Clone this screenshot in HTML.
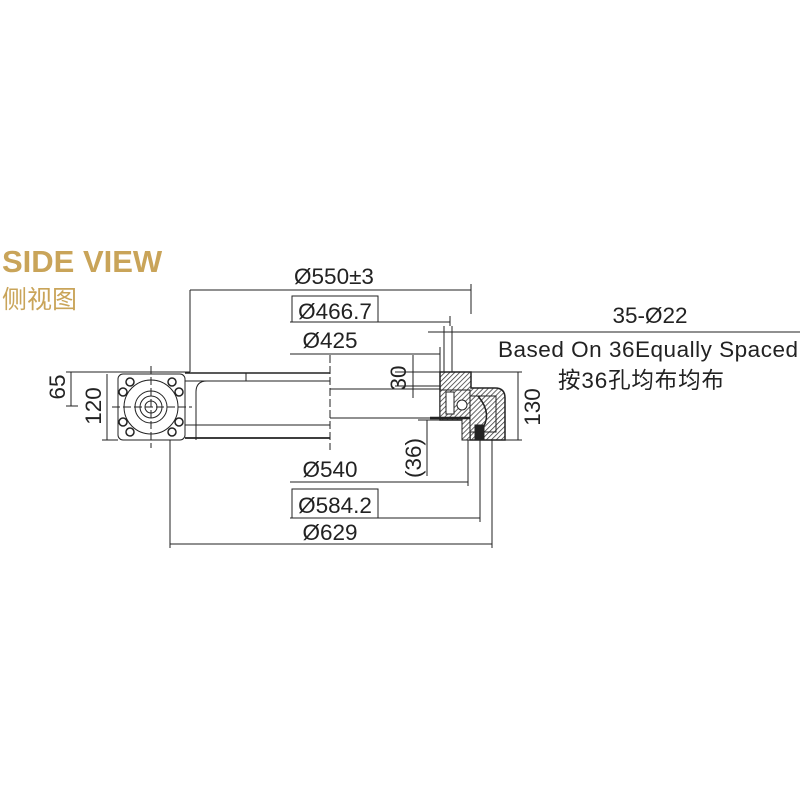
<!DOCTYPE html>
<html><head><style>
html,body{margin:0;padding:0;background:#fff;}
svg{display:block}
.t{font-family:"Liberation Sans",Arial,sans-serif;font-size:22.5px;fill:#222}
.m{text-anchor:middle}
</style></head><body>
<svg width="800" height="800" viewBox="0 0 800 800" xmlns="http://www.w3.org/2000/svg">
<defs>
<pattern id="h" width="3.5" height="3.5" patternUnits="userSpaceOnUse" patternTransform="rotate(45)">
<rect width="4" height="4" fill="#fff"/><line x1="0" y1="0" x2="0" y2="4" stroke="#333" stroke-width="1.5"/>
</pattern>
</defs>
<text x="2" y="272" font-family="Liberation Sans,Arial,sans-serif" font-weight="bold" font-size="31" fill="#c9a459">SIDE VIEW</text>
<text x="2" y="308" font-family="'Liberation Sans','Noto Sans CJK SC',sans-serif" font-size="25" fill="#c9a459">侧视图</text>

<g stroke="#222" fill="none" stroke-width="1">
<line x1="190" y1="290" x2="471" y2="290"/><line x1="471" y1="284" x2="471" y2="314"/>
<line x1="190" y1="290" x2="190" y2="372"/>
<rect x="292" y="296" width="86" height="26"/>
<line x1="290" y1="322" x2="450" y2="322"/><line x1="450" y1="316" x2="450" y2="326"/>
<line x1="290" y1="354" x2="440" y2="354"/><line x1="440" y1="347" x2="440" y2="372"/>
<line x1="428" y1="332" x2="800" y2="332"/>
<line x1="444" y1="326" x2="444" y2="420"/><line x1="452" y1="326" x2="452" y2="420"/>
<line x1="413" y1="355" x2="413" y2="398"/>
<line x1="395" y1="372" x2="440" y2="372"/><line x1="395" y1="386" x2="440" y2="386"/>
<line x1="470" y1="372" x2="522" y2="372"/><line x1="500" y1="440" x2="522" y2="440"/>
<line x1="518" y1="372" x2="518" y2="440"/>
<line x1="66" y1="372" x2="190" y2="372"/><line x1="71" y1="372" x2="71" y2="406"/><line x1="66" y1="406" x2="78" y2="406"/>
<line x1="102" y1="440" x2="118" y2="440"/><line x1="107" y1="374" x2="107" y2="440"/>
<line x1="290" y1="482" x2="468" y2="482"/><line x1="468" y1="440" x2="468" y2="486"/>
<rect x="292" y="489" width="86" height="29"/>
<line x1="290" y1="518" x2="480" y2="518"/><line x1="480" y1="440" x2="480" y2="522"/>
<line x1="170" y1="544" x2="492" y2="544"/><line x1="492" y1="440" x2="492" y2="548"/>
<line x1="170" y1="440" x2="170" y2="548"/>
<line x1="427" y1="420" x2="427" y2="476"/><line x1="418" y1="420" x2="440" y2="420"/>
<line x1="185" y1="373" x2="330" y2="373" stroke-width="1.5"/>
<line x1="185" y1="381" x2="246" y2="381"/>
<line x1="246" y1="373" x2="246" y2="381"/>
<path d="M196 440 V392 Q196 381 207 381 H330"/>
<line x1="185" y1="425" x2="330" y2="425"/>
<line x1="185" y1="438" x2="330" y2="438" stroke-width="1.8"/>
<line x1="330" y1="355" x2="330" y2="450" stroke-dasharray="8,3"/>
<line x1="330" y1="389" x2="440" y2="389"/><line x1="330" y1="418" x2="440" y2="418"/>
<rect x="118" y="374" width="67" height="66" rx="5"/>
<circle cx="151" cy="407" r="27"/><circle cx="151" cy="407" r="16"/><circle cx="151" cy="407" r="11"/><circle cx="151" cy="407" r="6"/>
<line x1="112" y1="407" x2="192" y2="407" stroke-dasharray="8,3"/>
<line x1="151" y1="366" x2="151" y2="448" stroke-dasharray="8,3"/>
<g stroke-width="1.5">
<circle cx="130" cy="382" r="4"/><circle cx="172" cy="382" r="4"/><circle cx="123" cy="392" r="4"/><circle cx="179" cy="392" r="4"/>
<circle cx="123" cy="422" r="4"/><circle cx="179" cy="422" r="4"/><circle cx="130" cy="432" r="4"/><circle cx="172" cy="432" r="4"/>
</g>
<path d="M440 372 H471 V388 H495 Q505 388 505 398 V440 H470 V420 H440 Z" fill="url(#h)" stroke-width="1.5"/>
<path d="M470 396 H496 V432 H470 Z" fill="url(#h)"/>
<path d="M478 396 Q494 415 480 432" stroke-width="1.5"/>
<path d="M440 390 H470 V440 H462 V418 H440 Z" fill="url(#h)"/>
<rect x="446" y="392" width="8" height="22" fill="#fff"/>
<circle cx="462" cy="405" r="5" fill="#fff"/>
<rect x="475" y="425" width="9" height="14" fill="#222"/>
<line x1="430" y1="418" x2="470" y2="418" stroke-width="2.5"/>
</g>

<text class="t m" x="334" y="284">Ø550±3</text>
<text class="t m" x="335" y="319">Ø466.7</text>
<text class="t m" x="330" y="348">Ø425</text>
<text class="t m" x="650" y="323">35-Ø22</text>
<text class="t" x="498" y="357" textLength="300">Based On 36Equally Spaced</text>
<text class="t" x="558" y="388" textLength="166" font-family="'Liberation Sans','Noto Sans CJK SC',sans-serif">按36孔均布均布</text>
<text class="t m" x="330" y="477">Ø540</text>
<text class="t m" x="335" y="513">Ø584.2</text>
<text class="t m" x="330" y="540">Ø629</text>
<text class="t m" transform="translate(406,378) rotate(-90)">30</text>
<text class="t m" transform="translate(540,407) rotate(-90)">130</text>
<text class="t m" transform="translate(65,387) rotate(-90)">65</text>
<text class="t m" transform="translate(101,406) rotate(-90)">120</text>
<text class="t m" transform="translate(421,458) rotate(-90)">(36)</text>
</svg>
</body></html>
